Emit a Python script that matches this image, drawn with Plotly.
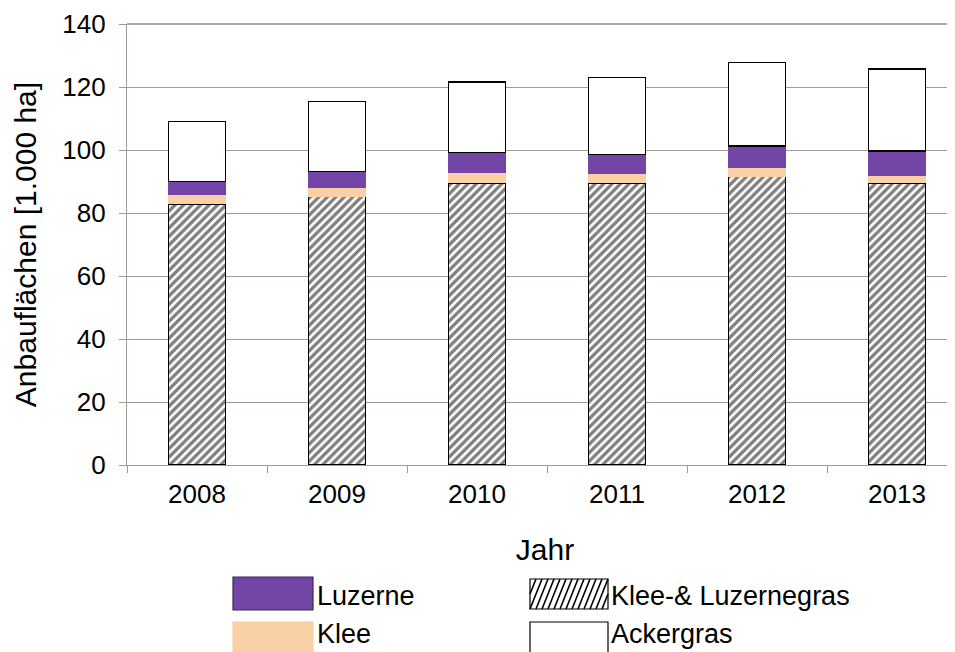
import plotly.graph_objects as go

# ---- data ----
years = ["2008", "2009", "2010", "2011", "2012", "2013"]
klee_luzernegras = [82.8, 85.2, 89.4, 89.4, 91.5, 89.4]
klee = [2.9, 2.7, 3.3, 3.0, 2.7, 2.3]
luzerne = [4.3, 5.4, 6.6, 6.2, 7.1, 8.0]
ackergras = [19.0, 22.0, 22.3, 24.3, 26.5, 26.0]
y_ticks = [0, 20, 40, 60, 80, 100, 120, 140]

# ---- styling ----
OFF = 8  # page body margin of the html output
W, H = 955, 652
# target page-pixel positions of the plot area
P_LEFT, P_TOP, P_BOTTOM = 127, 24, 465
L = P_LEFT - OFF
T = P_TOP - OFF
B = H - (P_BOTTOM - OFF)
R = 0
PW, PH = W - L - R, H - T - B
CAT = 140.0  # px per category
FONT = "Liberation Sans, Arial, sans-serif"
PURPLE = "#7245A6"
PEACH = "#F9D0A6"
GRID = "#a39a98"

def px(x):
    # page x -> paper x
    return (x - OFF - L) / PW

def py(y):
    # page y -> paper y
    return (H - B - (y - OFF)) / PH

fig = go.Figure()
fig.add_trace(go.Bar(
    x=years, y=klee_luzernegras, name="Klee-& Luzernegras",
    marker=dict(color="white",
                pattern=dict(shape="/", fgcolor="black", bgcolor="white", size=6, solidity=0.55),
                line=dict(color="black", width=1.2)),
    showlegend=False))
fig.add_trace(go.Bar(
    x=years, y=klee, name="Klee",
    marker=dict(color=PEACH, line=dict(width=0)), showlegend=False))
fig.add_trace(go.Bar(
    x=years, y=luzerne, name="Luzerne",
    marker=dict(color=PURPLE, line=dict(width=0)), showlegend=False))
fig.add_trace(go.Bar(
    x=years, y=ackergras, name="Ackergras",
    marker=dict(color="white", line=dict(color="black", width=1.2)), showlegend=False))

shapes = []
annotations = []
# top border line of plot area
shapes.append(dict(type="line", xref="paper", yref="paper", x0=0, x1=1, y0=1, y1=1,
                   line=dict(color="#555555", width=1.2)))

# custom legend
def swatch(x0, y0, x1, y1, fill, border):
    shapes.append(dict(type="rect", xref="paper", yref="paper",
                       x0=px(x0), x1=px(x1), y0=py(y1), y1=py(y0),
                       fillcolor=fill, line=dict(color=border, width=1.2)))

def label(x, y, text):
    annotations.append(dict(xref="paper", yref="paper", x=px(x), y=py(y), text=text,
                            showarrow=False, xanchor="left", yanchor="middle",
                            font=dict(family=FONT, size=27, color="black")))

swatch(233, 577, 313, 610, PURPLE, "#3a2a50")
label(315, 596, "Luzerne")
swatch(233, 622, 313, 665, PEACH, PEACH)
label(315, 634, "Klee")
# hatched swatch
hx0, hy0, hx1, hy1 = 530, 579, 608, 609
swatch(hx0, hy0, hx1, hy1, "white", "black")
path = ""
step = 6
slant = 12
xs = hx0 - slant
while xs < hx1:
    xb0, yb0 = xs, hy1
    xt0, yt0 = xs + slant, hy0
    if xb0 < hx0:
        frac = (hx0 - xb0) / slant
        xb0, yb0 = hx0, hy1 - frac * (hy1 - hy0)
    if xt0 > hx1:
        frac = (xt0 - hx1) / slant
        xt0, yt0 = hx1, hy0 + frac * (hy1 - hy0)
    if xb0 < xt0:
        path += f"M{px(xb0)},{py(yb0)} L{px(xt0)},{py(yt0)} "
    xs += step
shapes.append(dict(type="path", xref="paper", yref="paper", path=path,
                   line=dict(color="black", width=1.6)))
label(609, 596, "Klee-& Luzernegras")
swatch(530, 622, 608, 665, "white", "black")
label(609, 634, "Ackergras")

fig.update_layout(
    width=W, height=H,
    margin=dict(l=L, r=R, t=T, b=B, pad=0, autoexpand=False),
    barmode="stack", bargap=0.59,
    plot_bgcolor="white", paper_bgcolor="white",
    font=dict(family=FONT, color="black"),
    shapes=shapes, annotations=annotations,
    xaxis=dict(
        type="category", range=[-0.5, -0.5 + PW / CAT],
        automargin=False,
        showline=True, linecolor=GRID, linewidth=1.2,
        ticks="outside", tickson="boundaries", ticklen=7, tickcolor=GRID,
        ticklabelstandoff=6,
        tickfont=dict(family=FONT, size=26, color="black"),
        title=dict(text="Jahr", font=dict(family=FONT, size=30, color="black"), standoff=30),
        showgrid=False,
    ),
    yaxis=dict(
        range=[0, 140], tickvals=y_ticks,
        automargin=False,
        showline=True, linecolor=GRID, linewidth=1.2,
        ticks="outside", ticklen=7, tickcolor=GRID,
        ticklabelstandoff=8,
        showgrid=True, gridcolor=GRID, gridwidth=1.2,
        zeroline=False,
        tickfont=dict(family=FONT, size=26, color="black"),
        title=dict(text="Anbauflächen [1.000 ha]", font=dict(family=FONT, size=30, color="black"), standoff=16),
    ),
)

fig.write_html("out.html")
